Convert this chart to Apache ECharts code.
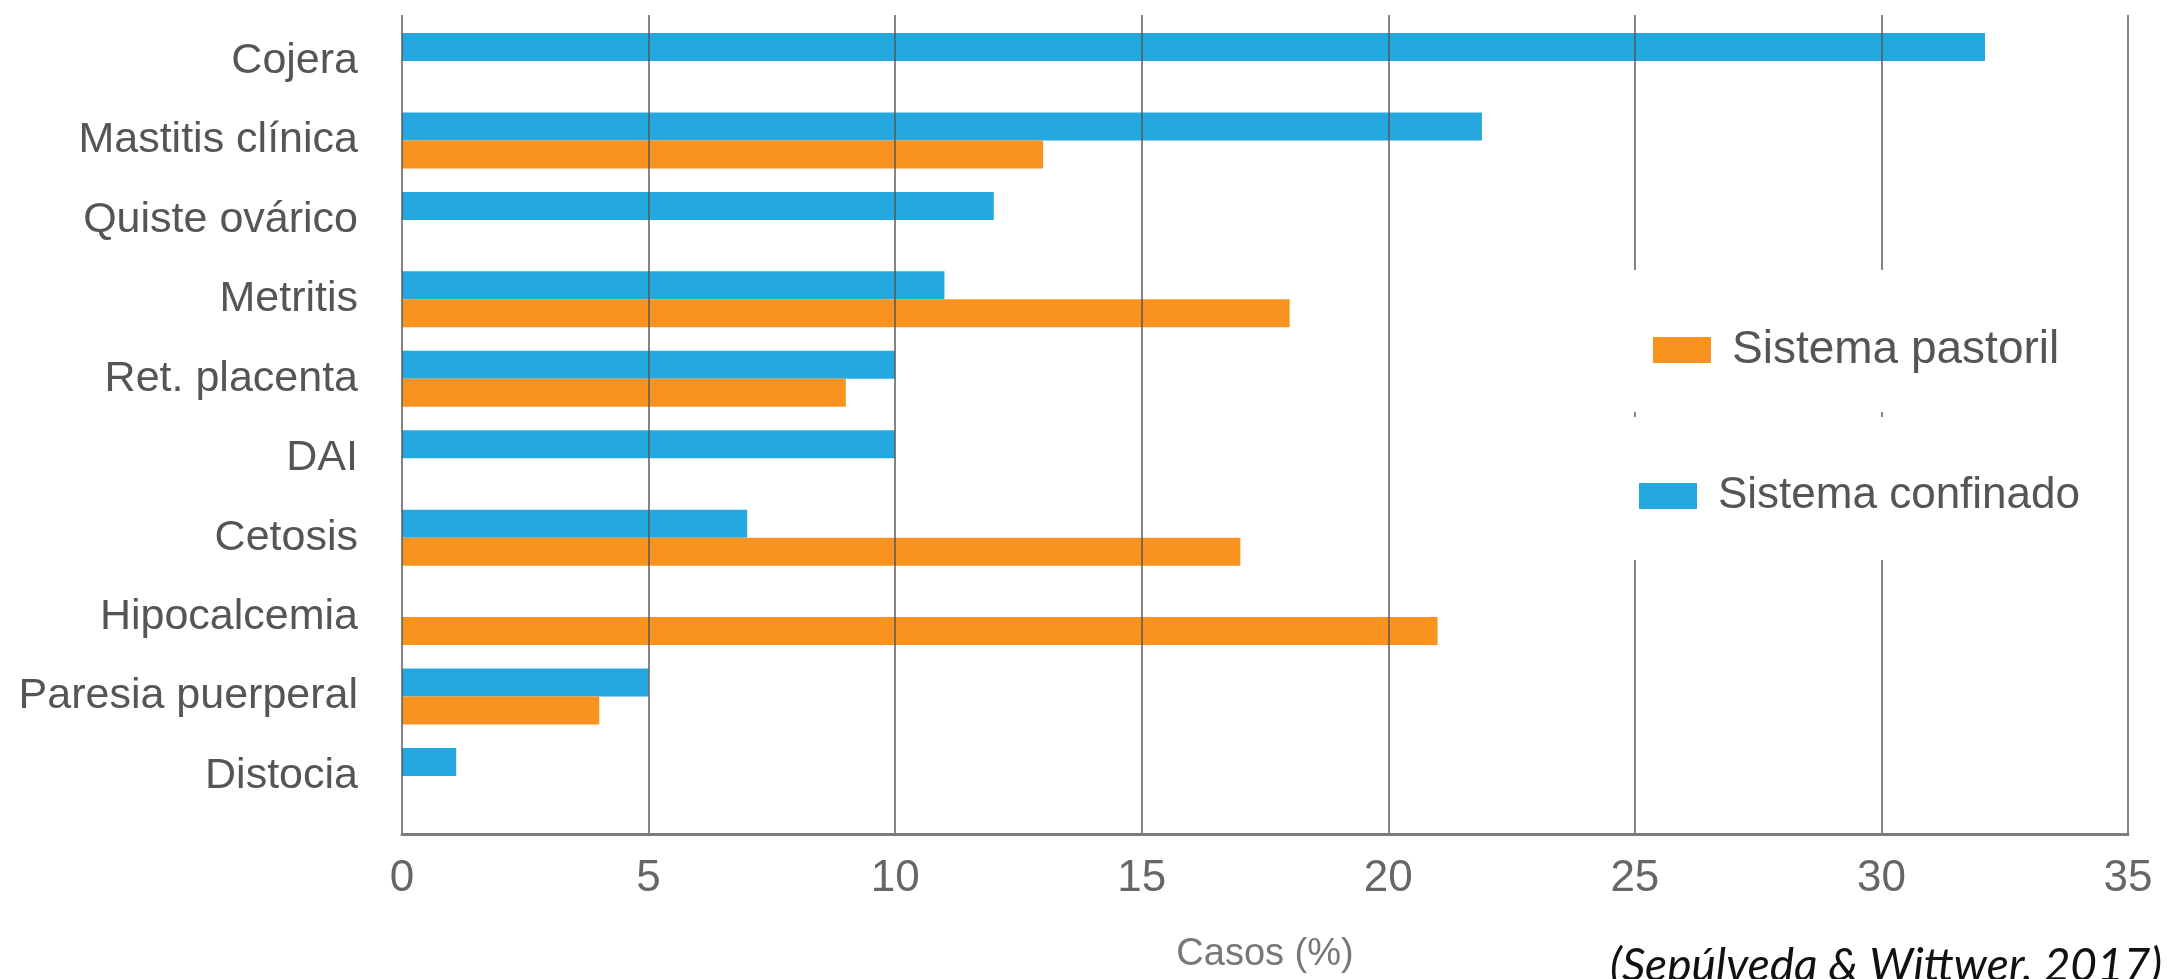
<!DOCTYPE html>
<html>
<head>
<meta charset="utf-8">
<title>Casos (%)</title>
<script src="https://cdn.jsdelivr.net/npm/echarts@6/dist/echarts.min.js"></script>
<style>
  html, body { margin: 0; padding: 0; background: #ffffff; }
  #chart { width: 2167px; height: 979px; }
</style>
</head>
<body>
<div id="chart"></div>
<script>
// Disease categories, top to bottom
const categories = [
  'Cojera', 'Mastitis clínica', 'Quiste ovárico', 'Metritis', 'Ret. placenta',
  'DAI', 'Cetosis', 'Hipocalcemia', 'Paresia puerperal', 'Distocia'
];
// Share of cases (%) per production system
const confinado = [32.1, 21.9, 12, 11, 10, 10, 7, null, 5, 1.1];
const pastoril  = [null, 13, null, 18, 9, null, 17, 21, 4, null];
// Value axis ticks
const xTicks = [0, 5, 10, 15, 20, 25, 30, 35];

const seriesNames = { confinado: 'Sistema confinado', pastoril: 'Sistema pastoril' };
const BLUE = '#25a8e0';
const ORANGE = '#f7931e';
const TEXT = '#555555';
const SANS = '"Liberation Sans", Arial, sans-serif';

const chart = echarts.init(document.getElementById('chart'), null, { renderer: 'canvas' });

const left = 402, plotWidth = 1726;

chart.setOption({
  animation: false,
  backgroundColor: '#ffffff',
  grid: [
    // frame for the value axis and its vertical grid lines
    { left: left, top: 15, width: plotWidth, height: 819 },
    // category bands for the bars
    { left: left, top: 21.3, width: plotWidth, height: 794.4 }
  ],
  xAxis: [
    {
      gridIndex: 0,
      type: 'value',
      min: xTicks[0],
      max: xTicks[xTicks.length - 1],
      interval: 5,
      z: 3,
      axisLine: { show: true, lineStyle: { color: '#7d7d7d', width: 3 } },
      axisTick: { show: false },
      axisLabel: {
        margin: 23,
        color: '#666666',
        fontFamily: SANS,
        fontSize: 44
      },
      splitLine: { show: true, lineStyle: { color: 'rgba(85,85,85,0.72)', width: 2 } },
      name: 'Casos (%)',
      nameLocation: 'middle',
      nameGap: 102,
      nameTextStyle: { color: '#777777', fontFamily: SANS, fontSize: 38 }
    },
    { gridIndex: 1, type: 'value', min: xTicks[0], max: xTicks[xTicks.length - 1], show: false }
  ],
  yAxis: [
    { gridIndex: 0, type: 'category', data: categories, inverse: true, show: false },
    {
      gridIndex: 1,
      type: 'category',
      data: categories,
      inverse: true,
      axisLine: { show: false },
      axisTick: { show: false },
      axisLabel: {
        margin: 44,
        color: TEXT,
        fontFamily: SANS,
        fontSize: 43
      }
    }
  ],
  legend: [
    {
      data: [seriesNames.pastoril],
      left: 1653, top: 327, padding: 0,
      itemWidth: 58, itemHeight: 26,
      icon: 'rect',
      z: 12,
      textStyle: { color: TEXT, fontFamily: SANS, fontSize: 46, padding: [0, 0, 0, 16] }
    },
    {
      data: [seriesNames.confinado],
      left: 1639, top: 474, padding: 0,
      itemWidth: 58, itemHeight: 26,
      icon: 'rect',
      z: 12,
      textStyle: { color: TEXT, fontFamily: SANS, fontSize: 44, padding: [0, 0, 0, 16] }
    }
  ],
  graphic: [
    // white panels behind the two legend entries
    { type: 'rect', z: 10, shape: { x: 1592, y: 270, width: 505, height: 142 }, style: { fill: '#ffffff' } },
    { type: 'rect', z: 10, shape: { x: 1592, y: 417, width: 505, height: 143 }, style: { fill: '#ffffff' } },
    {
      type: 'text', z: 10, left: 1610, top: 943,
      style: {
        text: '(Sepúlveda & Wittwer, 2017)',
        fill: '#111111',
        font: 'italic 46px Lato, "Open Sans", sans-serif'
      }
    }
  ],
  series: [
    {
      name: seriesNames.confinado,
      type: 'bar',
      xAxisIndex: 1, yAxisIndex: 1,
      data: confinado,
      barWidth: 28,
      barGap: '0%',
      itemStyle: { color: BLUE }
    },
    {
      name: seriesNames.pastoril,
      type: 'bar',
      xAxisIndex: 1, yAxisIndex: 1,
      data: pastoril,
      barWidth: 28,
      barGap: '0%',
      itemStyle: { color: ORANGE }
    }
  ]
});
</script>
</body>
</html>
